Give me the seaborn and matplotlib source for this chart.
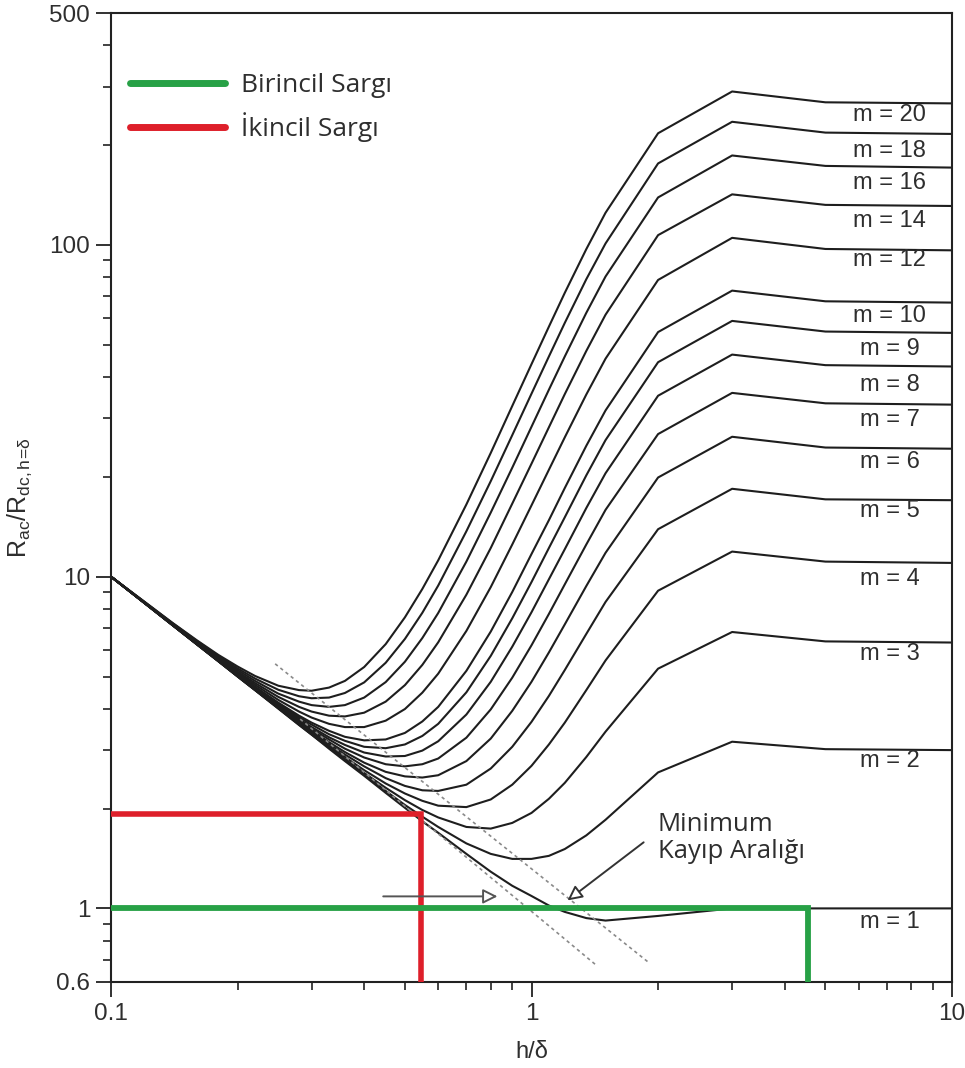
import numpy as np
import pandas as pd
import matplotlib
matplotlib.use('Agg')
import matplotlib.pyplot as plt
import seaborn as sns
from matplotlib.lines import Line2D
from matplotlib.ticker import NullFormatter, LogLocator

# ---------------- data ----------------
h_delta = [0.1, 0.12, 0.14, 0.16, 0.18, 0.2, 0.22, 0.25, 0.28, 0.3, 0.33, 0.36, 0.4, 0.45,
           0.5, 0.55, 0.6, 0.7, 0.8, 0.9, 1.0, 1.1, 1.2, 1.35, 1.5, 2.0, 3.0, 5.0, 10.0]

r_m1 = [10, 8.33, 7.14, 6.25, 5.56, 5, 4.55, 4, 3.57, 3.34, 3.03, 2.78, 2.51, 2.23, 2.01, 1.83, 1.69, 1.46, 1.29, 1.17, 1.09, 1.02, 0.976, 0.935, 0.919, 0.949, 1, 1, 1]
r_m2 = [10, 8.33, 7.14, 6.25, 5.56, 5, 4.55, 4.01, 3.58, 3.34, 3.05, 2.8, 2.53, 2.26, 2.05, 1.89, 1.76, 1.57, 1.46, 1.41, 1.41, 1.44, 1.51, 1.66, 1.85, 2.57, 3.18, 3.02, 3]
r_m3 = [10, 8.34, 7.15, 6.25, 5.56, 5.01, 4.56, 4.02, 3.59, 3.36, 3.07, 2.82, 2.56, 2.31, 2.12, 1.98, 1.88, 1.76, 1.74, 1.81, 1.94, 2.14, 2.39, 2.86, 3.41, 5.28, 6.81, 6.38, 6.33]
r_m4 = [10, 8.34, 7.15, 6.26, 5.57, 5.01, 4.56, 4.03, 3.61, 3.38, 3.09, 2.86, 2.61, 2.38, 2.22, 2.11, 2.04, 2.02, 2.13, 2.36, 2.69, 3.12, 3.63, 4.55, 5.59, 9.07, 11.9, 11.1, 11]
r_m5 = [10, 8.34, 7.15, 6.26, 5.57, 5.02, 4.57, 4.04, 3.63, 3.41, 3.13, 2.91, 2.68, 2.47, 2.34, 2.27, 2.26, 2.36, 2.64, 3.07, 3.65, 4.37, 5.23, 6.72, 8.39, 13.9, 18.4, 17.1, 17]
r_m6 = [10, 8.34, 7.15, 6.27, 5.58, 5.03, 4.59, 4.06, 3.66, 3.44, 3.17, 2.96, 2.75, 2.58, 2.5, 2.48, 2.52, 2.78, 3.25, 3.94, 4.82, 5.91, 7.18, 9.37, 11.8, 19.9, 26.4, 24.5, 24.3]
r_m7 = [10, 8.34, 7.16, 6.27, 5.59, 5.04, 4.6, 4.08, 3.69, 3.48, 3.23, 3.03, 2.85, 2.72, 2.68, 2.72, 2.83, 3.27, 3.98, 4.96, 6.21, 7.72, 9.48, 12.5, 15.9, 26.9, 35.8, 33.3, 33]
r_m8 = [10, 8.35, 7.16, 6.28, 5.6, 5.06, 4.62, 4.11, 3.73, 3.52, 3.28, 3.11, 2.95, 2.87, 2.88, 2.99, 3.19, 3.84, 4.82, 6.15, 7.81, 9.82, 12.1, 16.1, 20.5, 35.1, 46.7, 43.4, 43]
r_m9 = [10, 8.35, 7.17, 6.29, 5.61, 5.07, 4.64, 4.14, 3.77, 3.58, 3.35, 3.2, 3.07, 3.04, 3.12, 3.31, 3.6, 4.48, 5.77, 7.49, 9.63, 12.2, 15.1, 20.2, 25.8, 44.3, 59, 54.8, 54.3]
r_m10 = [10, 8.35, 7.17, 6.3, 5.62, 5.09, 4.66, 4.17, 3.81, 3.63, 3.43, 3.29, 3.21, 3.23, 3.38, 3.66, 4.05, 5.2, 6.83, 8.99, 11.7, 14.8, 18.5, 24.8, 31.7, 54.6, 72.8, 67.6, 67]
r_m12 = [10, 8.36, 7.19, 6.32, 5.65, 5.13, 4.72, 4.25, 3.92, 3.76, 3.6, 3.52, 3.52, 3.68, 3.99, 4.47, 5.1, 6.86, 9.3, 12.5, 16.4, 21, 26.3, 35.4, 45.4, 78.4, 105, 97.2, 96.3]
r_m14 = [10, 8.37, 7.2, 6.34, 5.68, 5.17, 4.78, 4.34, 4.05, 3.92, 3.81, 3.79, 3.89, 4.2, 4.71, 5.42, 6.34, 8.82, 12.2, 16.6, 21.9, 28.2, 35.5, 47.9, 61.6, 107, 142, 132, 131]
r_m16 = [10, 8.38, 7.22, 6.37, 5.72, 5.23, 4.85, 4.44, 4.2, 4.1, 4.05, 4.1, 4.32, 4.81, 5.54, 6.53, 7.77, 11.1, 15.6, 21.3, 28.3, 36.6, 46.1, 62.4, 80.3, 139, 186, 173, 171]
r_m18 = [10, 8.4, 7.24, 6.4, 5.77, 5.29, 4.93, 4.56, 4.36, 4.3, 4.32, 4.46, 4.8, 5.5, 6.49, 7.78, 9.4, 13.7, 19.4, 26.7, 35.6, 46.1, 58.2, 78.8, 101, 176, 235, 218, 216]
r_m20 = [10, 8.41, 7.26, 6.43, 5.81, 5.36, 5.02, 4.69, 4.55, 4.53, 4.63, 4.85, 5.34, 6.26, 7.54, 9.18, 11.2, 16.5, 23.6, 32.7, 43.7, 56.7, 71.7, 97.1, 125, 217, 290, 269, 267]

m_layers = [1, 2, 3, 4, 5, 6, 7, 8, 9, 10, 12, 14, 16, 18, 20]
curves = [r_m1, r_m2, r_m3, r_m4, r_m5, r_m6, r_m7, r_m8, r_m9, r_m10,
          r_m12, r_m14, r_m16, r_m18, r_m20]
m_label_y = [0.913, 2.78, 5.85, 9.86, 15.8, 22.2, 29.6, 37.8, 48.5, 61, 90, 118, 154, 192, 247]

# operating points (primary / secondary winding)
prim_h, prim_r = 4.54, 1.0
sec_h, sec_r = 0.547, 1.92

y_ticks = [0.6, 1, 10, 100, 500]
y_tick_labels = ['0.6', '1', '10', '100', '500']
x_ticks = [0.1, 1, 10]
x_tick_labels = ['0.1', '1', '10']

# ---------------- styling ----------------
sns.set_style('ticks')
plt.rcParams['font.family'] = ['Liberation Sans', 'DejaVu Sans']
plt.rcParams['mathtext.fontset'] = 'custom'
plt.rcParams['mathtext.rm'] = 'Liberation Sans'
plt.rcParams['mathtext.it'] = 'Liberation Sans:italic'

GREEN = '#27a146'
RED = '#de1f2a'
INK = '#1e1e1e'
TXT = '#2e2e2e'
NOTE_FONT = ['Open Sans', 'DejaVu Sans']

W, H = 965, 1068
fig = plt.figure(figsize=(W / 100, H / 100), dpi=100)
ax = fig.add_axes([111 / W, 1 - 982 / H, (952 - 111) / W, (982 - 13) / H])

rows = []
for m, vals in zip(m_layers, curves):
    for h, r in zip(h_delta, vals):
        rows.append({'h': h, 'r': r, 'm': f'm = {m}'})
df = pd.DataFrame(rows)

sns.lineplot(data=df, x='h', y='r', hue='m', palette=[INK] * len(m_layers),
             estimator=None, sort=False, legend=False, linewidth=1.5, ax=ax)

ax.set_xscale('log')
ax.set_yscale('log')
ax.set_xlim(0.1, 10)
ax.set_ylim(0.6, 500)

# guide lines for the two windings
ax.plot([0.1, sec_h, sec_h], [sec_r, sec_r, 0.6], color=RED, lw=4.0,
        solid_joinstyle='miter', solid_capstyle='butt', zorder=4)
ax.plot([0.1, prim_h, prim_h], [prim_r, prim_r, 0.6], color=GREEN, lw=4.2,
        solid_joinstyle='miter', solid_capstyle='butt', zorder=4)

# dotted boundaries of the minimum-loss region
ax.plot([0.2818, 1.42], [3.72, 0.677], color='#8a8a8a', lw=1.2, ls=(0, (2, 2)), zorder=2)
ax.plot([0.2457, 1.889], [5.46, 0.691], color='#8a8a8a', lw=1.2, ls=(0, (2, 2)), zorder=2)

# arrows
ax.annotate('', xy=(0.83, 1.087), xytext=(0.444, 1.087),
            arrowprops=dict(arrowstyle='-|>', fc='white', ec='#555555', lw=1.4,
                            mutation_scale=22, shrinkA=0, shrinkB=0), zorder=5)
ax.annotate('', xy=(1.218, 1.057), xytext=(1.848, 1.582),
            arrowprops=dict(arrowstyle='-|>', fc='white', ec='#333333', lw=1.4,
                            mutation_scale=22, shrinkA=0, shrinkB=0), zorder=5)
ax.text(1.995, 1.633, 'Minimum\nKayıp Aralığı', ha='left', va='center',
        fontsize=18.5, color=TXT, family=NOTE_FONT, linespacing=1.1)

# curve labels
for m, ly in zip(m_layers, m_label_y):
    ax.text(7.1, ly, f'm = {m}', ha='center', va='center', fontsize=17, color=TXT)

# axes cosmetics
ax.set_yticks(y_ticks)
ax.set_yticklabels(y_tick_labels)
ax.set_xticks(x_ticks)
ax.set_xticklabels(x_tick_labels)
ax.yaxis.set_minor_locator(LogLocator(base=10, subs=np.arange(2, 10)))
ax.xaxis.set_minor_locator(LogLocator(base=10, subs=np.arange(2, 10)))
ax.yaxis.set_minor_formatter(NullFormatter())
ax.xaxis.set_minor_formatter(NullFormatter())
ax.tick_params(which='major', direction='out', length=11, width=1.3, labelsize=17.5,
               pad=4, colors='#222222', labelcolor=TXT)
ax.tick_params(which='minor', direction='out', length=5.5, width=1.2, colors='#222222')
for s in ax.spines.values():
    s.set_linewidth(1.5)
    s.set_color('#222222')
    s.set_visible(True)

ax.set_xlabel('h/δ', fontsize=17, labelpad=12, color=TXT)
ax.set_ylabel(r'$\mathregular{R_{ac}/R_{dc,h\!=\!\delta}}$', fontsize=18, labelpad=11, color=TXT)

legend_handles = [Line2D([], [], color=GREEN, lw=5, solid_capstyle='round'),
                  Line2D([], [], color=RED, lw=5, solid_capstyle='round')]
leg = ax.legend(legend_handles, ['Birincil Sargı', 'İkincil Sargı'],
                loc='upper left', bbox_to_anchor=(130 / W, 1 - 73 / H),
                bbox_transform=fig.transFigure, frameon=False,
                prop={'family': NOTE_FONT, 'size': 19},
                handlelength=3.6, handletextpad=0.6, labelspacing=0.55,
                borderpad=0, borderaxespad=0)
for t in leg.get_texts():
    t.set_color(TXT)

fig.savefig('out.png', dpi=100, facecolor='white')
